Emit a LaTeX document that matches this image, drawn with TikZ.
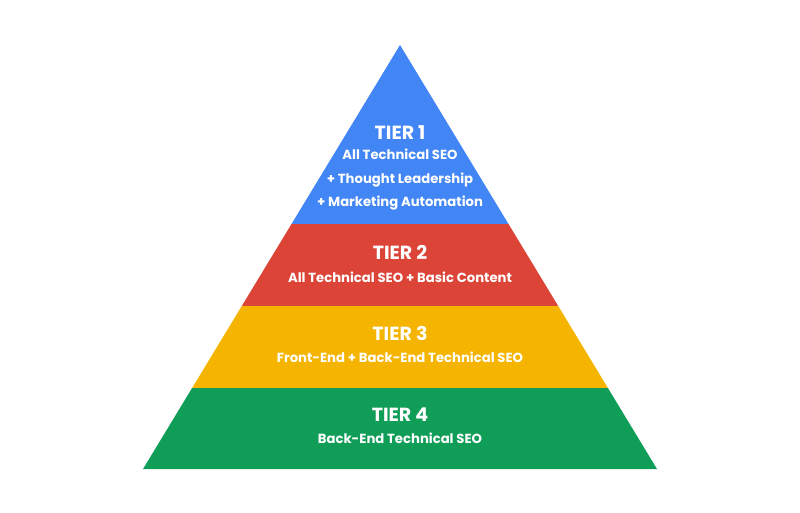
\documentclass[tikz,border=0pt]{standalone}
\usepackage{fontspec}
\setmainfont{Poppins}
\usetikzlibrary{calc}
\definecolor{tierblue}{HTML}{4285F4}
\definecolor{tierred}{HTML}{DB4437}
\definecolor{tieryellow}{HTML}{F4B400}
\definecolor{tiergreen}{HTML}{0F9D58}
\tikzset{
  band/.style={draw=none},
  tiertitle/.style={text=white,font=\fontsize{19}{21}\selectfont\bfseries,inner sep=0pt},
  tiertext/.style={text=white,font=\fontsize{13.2}{23.5}\selectfont\bfseries,align=center,inner sep=0pt}
}
\begin{document}
\begin{tikzpicture}[x=1pt,y=-1pt]
\useasboundingbox (0,0) rectangle (800,512);
% Piramide
\coordinate (apex) at (400,45);
\coordinate (bl) at (143,469);
\coordinate (br) at (657,469);
\coordinate (l1) at ($(apex)!0.4222!(bl)$);
\coordinate (r1) at ($(apex)!0.4222!(br)$);
\coordinate (l2) at ($(apex)!0.6156!(bl)$);
\coordinate (r2) at ($(apex)!0.6156!(br)$);
\coordinate (l3) at ($(apex)!0.8090!(bl)$);
\coordinate (r3) at ($(apex)!0.8090!(br)$);
\fill[band,tierblue] (apex) -- (r1) -- (l1) -- cycle;
\fill[band,tierred] (l1) -- (r1) -- (r2) -- (l2) -- cycle;
\fill[band,tieryellow] (l2) -- (r2) -- (r3) -- (l3) -- cycle;
\fill[band,tiergreen] (l3) -- (r3) -- (br) -- (bl) -- cycle;

% Textos
\node[tiertitle] (t1) at (400,133) {TIER 1};
\node[tiertext] (d1) at (400,180) {All Technical SEO\\+ Thought Leadership\\+ Marketing Automation};
\node[tiertitle] (t2) at (400,252) {TIER 2};
\node[tiertext] (d2) at (400,277) {All Technical SEO + Basic Content};
\node[tiertitle] (t3) at (400,333) {TIER 3};
\node[tiertext] (d3) at (400,357) {Front-End + Back-End Technical SEO};
\node[tiertitle] (t4) at (400,415) {TIER 4};
\node[tiertext] (d4) at (400,438) {Back-End Technical SEO};
\end{tikzpicture}
\end{document}
